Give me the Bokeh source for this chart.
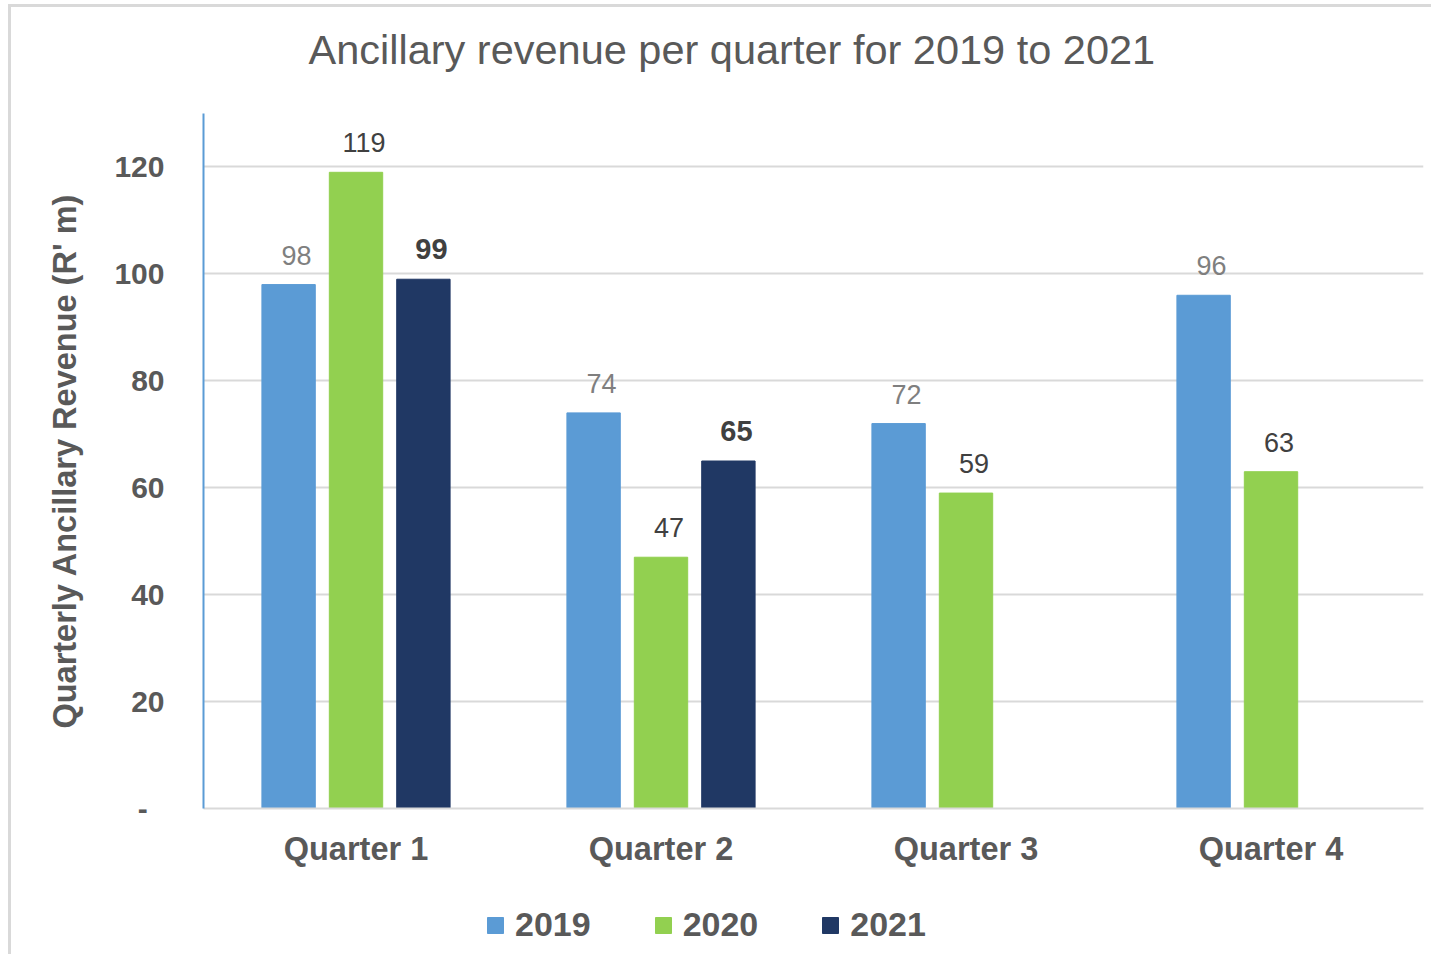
from bokeh.plotting import figure
from bokeh.layouts import column
from bokeh.models import (ColumnDataSource, LabelSet, Label, FactorRange, Range1d, FixedTicker,
                          Legend, LegendItem)
from bokeh.core.properties import value
from bokeh.transform import dodge
from bokeh.embed import file_html
from bokeh.resources import INLINE

quarters = ["Quarter 1", "Quarter 2", "Quarter 3", "Quarter 4"]
years = ["2019", "2020", "2021"]
rev_2019 = [98, 74, 72, 96]
rev_2020 = [119, 47, 59, 63]
rev_2021 = [99, 65, None, None]
y_ticks = [0, 20, 40, 60, 80, 100, 120]
title_text = "Ancillary revenue per quarter for 2019 to 2021"
y_label = "Quarterly Ancillary Revenue (R' m)"

FONT = "Liberation Sans"
TXT = "#595959"
colors = ["#5B9BD5", "#92D050", "#203864"]
label_colors = ["#7F7F7F", "#404040", "#404040"]
label_styles = ["normal", "normal", "bold"]
label_sizes = ["27px", "27px", "29px"]
offsets = [-0.221, 0.0, 0.221]

W = 1420
FRAME_W = 1220
TITLE_H = 99
MAIN_H = 774
LEG_H = 74

# ---- title strip (frame aligned with main chart frame by the column) ----
pt = figure(width=W, height=TITLE_H, x_range=Range1d(0, FRAME_W), y_range=Range1d(0, TITLE_H),
            x_axis_type=None, y_axis_type=None, output_backend="svg",
            toolbar_location=None, min_border=0, title=None)
pt.outline_line_color = None
pt.add_layout(Label(x=105, y=57, text=title_text, text_align="left",
                    text_baseline="alphabetic", text_font=FONT,
                    text_font_size="41.5px", text_color=TXT))

# ---- main chart ----
p = figure(x_range=FactorRange(*quarters), y_range=Range1d(0, 130),
           width=W, height=MAIN_H, output_backend="svg", toolbar_location=None,
           min_border_left=192, min_border_right=8, min_border_top=7,
           min_border_bottom=72, title=None)
p.outline_line_color = None

for i, (yr, vals) in enumerate(zip(years, [rev_2019, rev_2020, rev_2021])):
    qs = [q for q, v in zip(quarters, vals) if v is not None]
    vs = [v for v in vals if v is not None]
    src = ColumnDataSource(dict(quarter=qs, value=vs, label=[str(v) for v in vs]))
    p.vbar(x=dodge("quarter", offsets[i], range=p.x_range), top="value", width=0.175,
           source=src, fill_color=colors[i], line_color=colors[i])
    lbl = LabelSet(x=dodge("quarter", offsets[i], range=p.x_range), y="value", text="label",
                   source=src, text_align="center", text_baseline="alphabetic",
                   y_offset=20, x_offset=8, text_font=value(FONT),
                   text_font_size=value(label_sizes[i]),
                   text_font_style=label_styles[i], text_color=label_colors[i])
    p.add_layout(lbl)

p.yaxis.ticker = FixedTicker(ticks=y_ticks)
p.yaxis.major_label_overrides = {0: "-  "}
p.yaxis.axis_line_color = "#5B9BD5"
p.yaxis.axis_line_width = 2
p.yaxis.major_tick_line_color = None
p.yaxis.minor_tick_line_color = None
p.yaxis.major_label_standoff = 33
p.yaxis.major_label_text_font = FONT
p.yaxis.major_label_text_font_size = "30px"
p.yaxis.major_label_text_font_style = "bold"
p.yaxis.major_label_text_color = TXT
p.yaxis.axis_label = y_label
p.yaxis.axis_label_text_font = FONT
p.yaxis.axis_label_text_font_size = "32.5px"
p.yaxis.axis_label_text_font_style = "bold"
p.yaxis.axis_label_text_color = TXT
p.yaxis.axis_label_standoff = 28

p.xaxis.axis_line_color = "#D9D9D9"
p.xaxis.axis_line_width = 2
p.xaxis.major_tick_line_color = None
p.xaxis.minor_tick_line_color = None
p.xaxis.major_label_standoff = 16
p.xaxis.major_label_text_font = FONT
p.xaxis.major_label_text_font_size = "32.5px"
p.xaxis.major_label_text_font_style = "bold"
p.xaxis.major_label_text_color = TXT

p.xgrid.grid_line_color = None
p.ygrid.grid_line_color = "#D9D9D9"
p.ygrid.grid_line_width = 2

# ---- legend strip (proxy swatches kept outside the visible range) ----
pl = figure(width=W, height=LEG_H, x_range=Range1d(0, 1), y_range=Range1d(0, 1),
            x_axis_type=None, y_axis_type=None, output_backend="svg",
            toolbar_location=None, min_border=0, title=None)
pl.outline_line_color = None
leg_renderers = [pl.vbar(x=[-10], top=[0], width=1, fill_color=c, line_color=c) for c in colors]
legend = Legend(items=[LegendItem(label=yr, renderers=[r]) for yr, r in zip(years, leg_renderers)],
                orientation="horizontal", location=(282, 10),
                glyph_width=20, glyph_height=20, label_standoff=10, spacing=62,
                padding=0, margin=0, border_line_color=None, background_fill_alpha=0,
                label_text_font=FONT, label_text_font_size="34px",
                label_text_font_style="bold", label_text_color=TXT)
pl.add_layout(legend, "center")

layout = column(pt, p, pl, spacing=0)
layout.styles = {"border-left": "3px solid #D9D9D9", "border-top": "3px solid #D9D9D9",
                 "margin-left": "8px", "margin-top": "4px"}

open("out.html", "w").write(file_html(layout, INLINE))
